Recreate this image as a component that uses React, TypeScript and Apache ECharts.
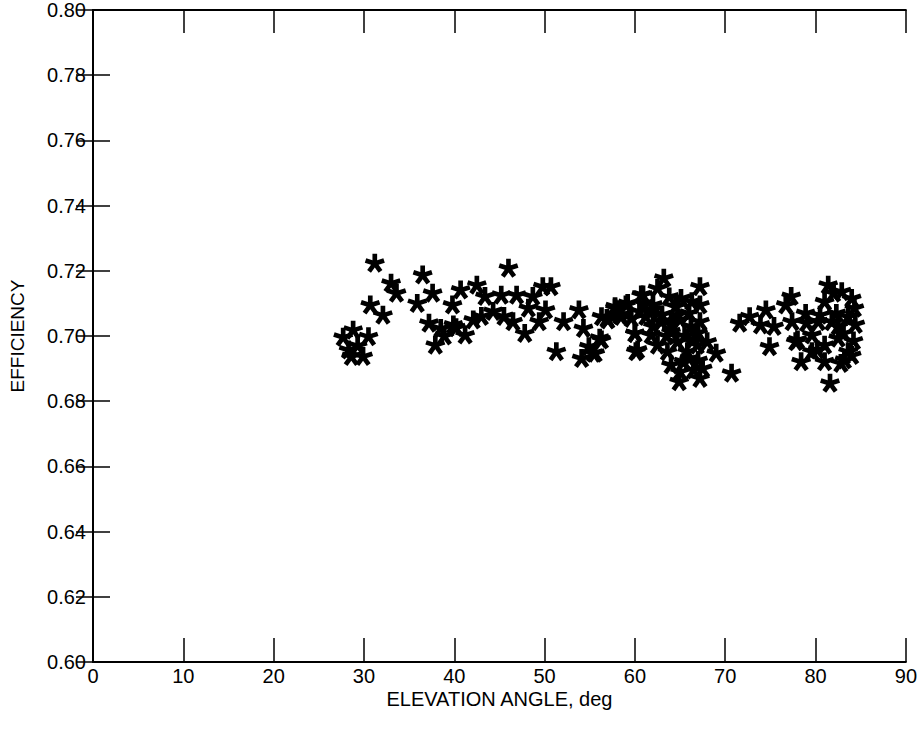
import React, { useEffect, useRef } from "react";
import * as echarts from "echarts";

const xTickValues = [0, 10, 20, 30, 40, 50, 60, 70, 80, 90];
const yTickLabels = ["0.60", "0.62", "0.64", "0.66", "0.68", "0.70", "0.72", "0.74", "0.76", "0.78", "0.80"];

const elevationDeg = [
  28.8, 27.7, 30.5, 28.3, 28.6, 29.9, 29.3,
  31.2, 33.0, 33.6, 30.7, 32.1,
  36.5, 37.6, 35.9, 37.2, 37.9,
  38.5, 39.8, 39.9, 40.7, 41.2, 42.1, 42.5, 43.4, 44.3, 45.2, 46.0, 46.9, 46.5, 47.8, 48.7, 49.4, 49.8, 38.9, 40.2, 43.0, 45.5, 48.2,
  50.7, 50.1, 52.1, 53.8, 54.3, 51.3, 56.1, 54.9, 54.1, 55.4, 56.9, 58.3, 57.8, 59.0, 60.0, 60.3, 60.9, 60.5,
  63.2, 67.2, 60.7, 62.5, 59.2, 57.8, 56.3, 57.0, 65.1, 67.2, 64.7, 61.8, 59.6, 62.9, 60.0, 61.8, 64.0, 66.2, 67.2,
  56.3, 55.6, 60.1, 62.5, 64.7, 66.9, 68.0, 69.0, 64.0, 65.4, 66.5, 67.2, 64.9, 70.7, 65.8, 63.6,
  62.0, 63.0, 64.0, 65.0, 66.0, 66.5, 67.0, 65.5, 63.5, 66.0, 67.0, 67.5, 65.0, 64.5, 62.0, 61.0, 63.8, 66.3, 58.5, 61.2,
  71.6, 72.7, 74.5, 73.9, 75.4, 74.9, 77.3, 76.7, 77.4, 78.9, 77.8, 78.4, 79.6, 80.3, 81.0, 81.4, 82.9, 84.0, 83.6, 81.8,
  82.5, 81.0, 83.6, 81.0, 83.2, 81.6, 79.6, 84.3, 84.4, 84.2, 80.5, 82.3, 83.1, 82.8, 78.0, 80.2, 82.0, 79.0, 82.5, 84.0,
];

const efficiency = [
  0.7018, 0.6996, 0.6998, 0.6957, 0.6937, 0.6937, 0.6970,
  0.7223, 0.7162, 0.7131, 0.7095, 0.7064,
  0.7187, 0.7131, 0.7100, 0.7039, 0.6972,
  0.7023, 0.7095, 0.7034, 0.7141, 0.7003, 0.7049, 0.7156, 0.7121, 0.7075, 0.7125, 0.7208, 0.7125, 0.7044, 0.7008, 0.7121, 0.7044, 0.7151, 0.7000, 0.7025, 0.7060, 0.7060, 0.7085,
  0.7151, 0.7080, 0.7044, 0.7080, 0.7023, 0.6952, 0.6993, 0.6967, 0.6931, 0.6947, 0.7054, 0.7064, 0.7090, 0.7095, 0.7008, 0.6957, 0.7126, 0.7075,
  0.7177, 0.7151, 0.7126, 0.7146, 0.7100, 0.7085, 0.7059, 0.7049, 0.7115, 0.7095, 0.7064, 0.7080, 0.7054, 0.7044, 0.7008, 0.7003, 0.7013, 0.7029, 0.7044,
  0.6988, 0.6947, 0.6952, 0.6972, 0.6982, 0.6972, 0.6982, 0.6947, 0.6911, 0.6921, 0.6896, 0.6870, 0.6860, 0.6886, 0.6952, 0.6952,
  0.7095, 0.7065, 0.7035, 0.7050, 0.7070, 0.6990, 0.7010, 0.7000, 0.7000, 0.6930, 0.6925, 0.6900, 0.6890, 0.7090, 0.7030, 0.7100, 0.7120, 0.7105, 0.7060, 0.7060,
  0.7039, 0.7059, 0.7080, 0.7034, 0.7029, 0.6967, 0.7121, 0.7095, 0.7044, 0.7069, 0.6982, 0.6921, 0.7003, 0.7044, 0.7105, 0.7156, 0.7136, 0.7115, 0.7059, 0.7044,
  0.6993, 0.6972, 0.6952, 0.6921, 0.6926, 0.6855, 0.6952, 0.7085, 0.7035, 0.6985, 0.7064, 0.7069, 0.7008, 0.6916, 0.6988, 0.6957, 0.7131, 0.7040, 0.7030, 0.6940,
];

function asteriskPath(arms: number, R: number, w: number): string {
  const half = w / 2;
  const step = (2 * Math.PI) / arms;
  const rj = half / Math.sin(step / 2);
  const pts: [number, number][] = [];
  for (let k = 0; k < arms; k++) {
    const a = -Math.PI / 2 + k * step;
    const ux = Math.cos(a), uy = Math.sin(a);
    const nx = -Math.sin(a), ny = Math.cos(a);
    pts.push([R * ux - half * nx, R * uy - half * ny]);
    pts.push([R * ux + half * nx, R * uy + half * ny]);
    const b = a + step / 2;
    pts.push([rj * Math.cos(b), rj * Math.sin(b)]);
  }
  return (
    "path://" +
    pts.map((p, i) => (i === 0 ? "M" : "L") + (p[0] + 20).toFixed(3) + " " + (p[1] + 20).toFixed(3)).join(" ") +
    " Z"
  );
}

const FONT = "'Liberation Sans', Arial, Helvetica, sans-serif";

export default function App() {
  const ref = useRef<HTMLDivElement>(null);
  useEffect(() => {
    if (!ref.current) return;
    const chart = echarts.init(ref.current, undefined, { renderer: "svg" });
    const data = elevationDeg.map((x, i) => [x, efficiency[i]]);
    const symbol = asteriskPath(5, 10, 4.8);
    const axisLine = { show: true, lineStyle: { color: "#000", width: 2 } };
    const label = { color: "#000", fontFamily: FONT, fontSize: 20 };
    chart.setOption({
      animation: false,
      backgroundColor: "#fff",
      grid: { left: 91, right: 5, top: 10, bottom: 70, containLabel: false },
      xAxis: [
        {
          type: "value",
          min: 0,
          max: 90,
          interval: 10,
          position: "bottom",
          axisLine,
          axisTick: { show: true, inside: true, length: 24, lineStyle: { color: "#000", width: 1.5 } },
          axisLabel: { ...label, margin: 4, lineHeight: 20, formatter: (v: number) => (xTickValues.includes(v) ? String(v) : "") },
          splitLine: { show: false },
          name: "ELEVATION ANGLE, deg",
          nameLocation: "middle",
          nameGap: 27,
          nameMoveOverlap: false,
          nameTextStyle: { color: "#000", fontFamily: FONT, fontSize: 20, lineHeight: 20 },
        },
        {
          type: "value",
          min: 0,
          max: 90,
          interval: 10,
          position: "top",
          axisLine,
          axisTick: { show: true, inside: true, length: 23, lineStyle: { color: "#000", width: 1.5 } },
          axisLabel: { show: false },
          splitLine: { show: false },
        },
      ],
      yAxis: [
        {
          type: "value",
          min: 0.6,
          max: 0.8,
          interval: 0.02,
          position: "left",
          axisLine,
          axisTick: { show: true, inside: true, length: 17, lineStyle: { color: "#000", width: 1.5 } },
          axisLabel: {
            ...label,
            margin: 7,
            formatter: (v: number) => yTickLabels[Math.round((v - 0.6) / 0.02)] ?? "",
          },
          splitLine: { show: false },
          name: "EFFICIENCY",
          nameLocation: "middle",
          nameGap: 66,
          nameMoveOverlap: false,
          nameRotate: 90,
          nameTextStyle: { color: "#000", fontFamily: FONT, fontSize: 19 },
        },
        {
          type: "value",
          min: 0.6,
          max: 0.8,
          interval: 0.02,
          position: "right",
          axisLine,
          axisTick: { show: true, inside: true, length: 17, lineStyle: { color: "#000", width: 1.5 } },
          axisLabel: { show: false },
          splitLine: { show: false },
        },
      ],
      series: [
        {
          type: "scatter",
          xAxisIndex: 0,
          yAxisIndex: 0,
          data,
          symbol,
          symbolSize: [20, 19],
          itemStyle: { color: "#000", opacity: 1 },
          emphasis: { disabled: true },
        },
      ],
    });
    return () => chart.dispose();
  }, []);
  return (
    <div
      ref={ref}
      style={{ position: "fixed", left: 0, top: 0, width: 920, height: 732, background: "#fff" }}
    />
  );
}
